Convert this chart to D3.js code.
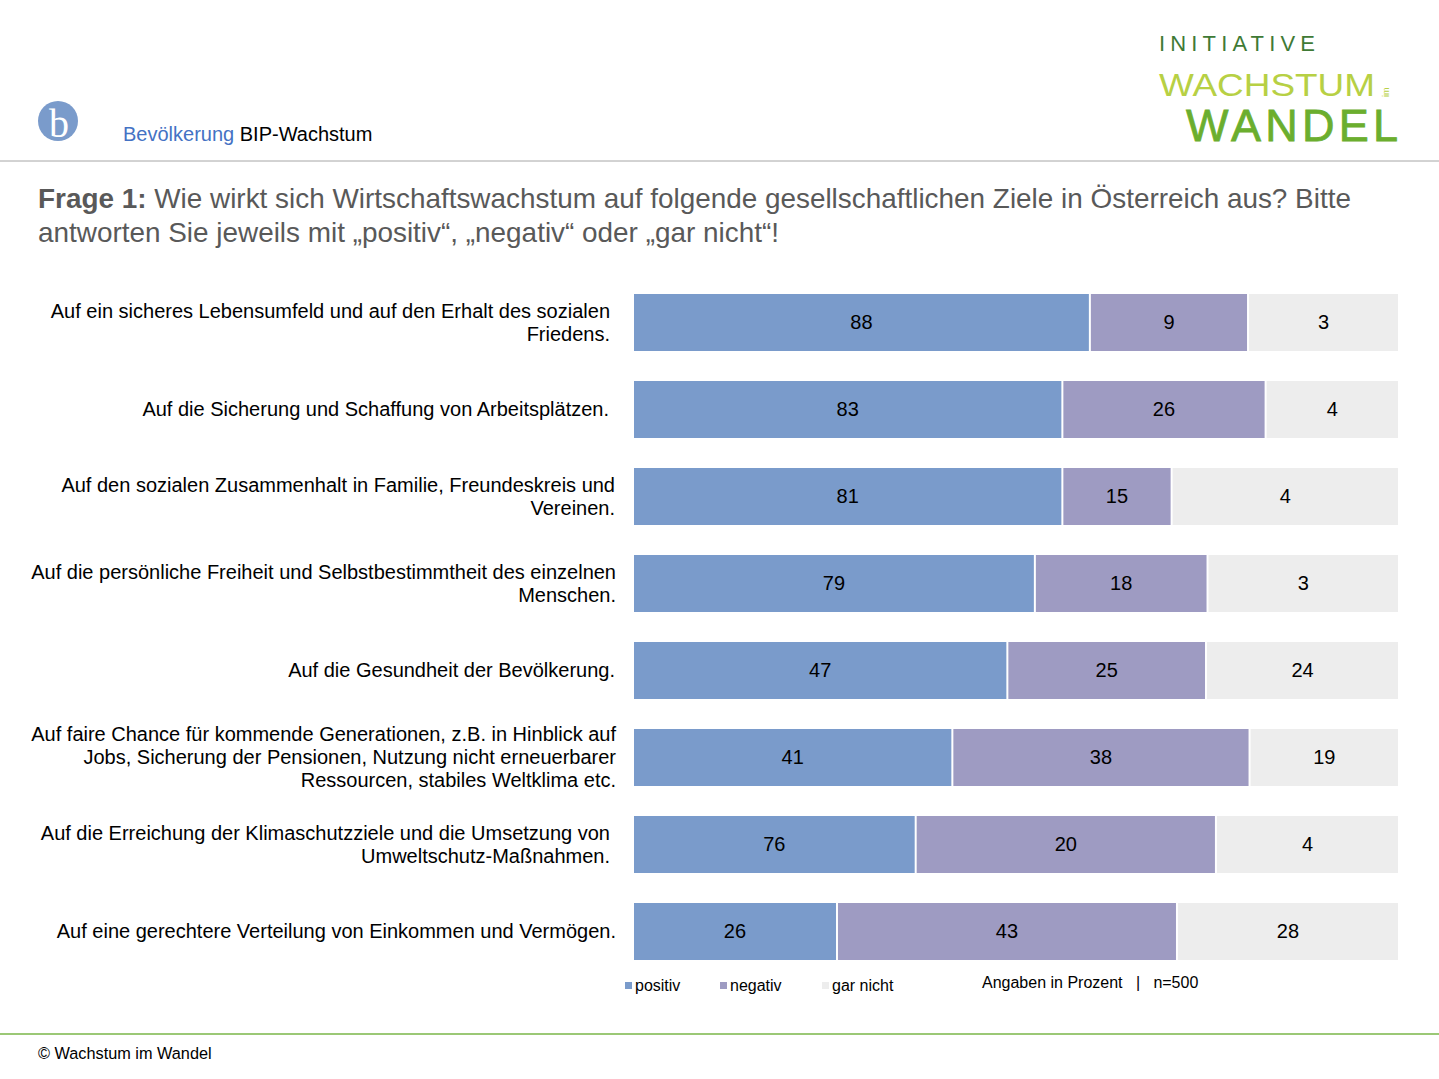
<!DOCTYPE html>
<html><head><meta charset="utf-8">
<script src="https://cdn.jsdelivr.net/npm/d3@7"></script>
<style>
body{margin:0;background:#fff;}
svg{display:block;font-family:"Liberation Sans",Arial,sans-serif;}
</style></head>
<body>
<svg id="c" width="1439" height="1079"></svg>
<script>
// ---- data ----
const categories = [
  ["Auf ein sicheres Lebensumfeld und auf den Erhalt des sozialen","Friedens."],
  ["Auf die Sicherung und Schaffung von Arbeitsplätzen."],
  ["Auf den sozialen Zusammenhalt in Familie, Freundeskreis und","Vereinen."],
  ["Auf die persönliche Freiheit und Selbstbestimmtheit des einzelnen","Menschen."],
  ["Auf die Gesundheit der Bevölkerung."],
  ["Auf faire Chance für kommende Generationen, z.B. in Hinblick auf","Jobs, Sicherung der Pensionen, Nutzung nicht erneuerbarer","Ressourcen, stabiles Weltklima etc."],
  ["Auf die Erreichung der Klimaschutzziele und die Umsetzung von","Umweltschutz-Maßnahmen."],
  ["Auf eine gerechtere Verteilung von Einkommen und Vermögen."]
];
const seriesNames = ["positiv","negativ","gar nicht"];
// values printed on the bars (Prozent)
const positivLabel  = [88,83,81,79,47,41,76,26];
const negativLabel  = [9,26,15,18,25,38,20,43];
const garNichtLabel = [3,4,4,3,24,19,4,28];
// bar lengths as drawn in the picture (share of full bar, %)
const positivBar  = [59.8,56.2,56.2,52.6,49.0,41.8,37.0,26.7];
const negativBar  = [20.7,26.6,14.3,22.6,26.0,38.9,39.3,44.5];
const garNichtBar = [19.5,17.2,29.5,24.8,25.0,19.3,23.7,28.8];

// ---- layout ----
const colors = ["#7A9BCB","#9E9BC2","#EDEDED"];
const labelRight = [610,609,615,616,615,616,610,616];
const svg = d3.select("#c");

// header
svg.append("circle").attr("cx",58).attr("cy",121).attr("r",20).attr("fill","#7A9BCB");
svg.append("text").attr("x",59).attr("y",137).attr("text-anchor","middle")
  .attr("font-family","Liberation Serif, serif").attr("font-size",40).attr("fill","#fff").text("b");
const h = svg.append("text").attr("x",123).attr("y",141).attr("font-size",20);
h.append("tspan").attr("fill","#4472C4").text("Bevölkerung");
h.append("tspan").attr("fill","#000").text(" BIP-Wachstum");
svg.append("line").attr("x1",0).attr("x2",1439).attr("y1",161).attr("y2",161).attr("stroke","#A6A6A6").attr("stroke-width",1);

// right logo
svg.append("text").attr("x",1159).attr("y",51).attr("font-size",22).attr("fill","#3F7A35")
  .attr("textLength",156).attr("lengthAdjust","spacing").text("INITIATIVE");
svg.append("text").attr("x",1159).attr("y",96).attr("font-size",32).attr("fill","#B7D044")
  .attr("textLength",216).attr("lengthAdjust","spacingAndGlyphs").text("WACHSTUM");
svg.append("text").attr("transform","translate(1389,97) rotate(-90)").attr("font-size",9).attr("fill","#B7D044").text("im");
svg.append("text").attr("x",1186).attr("y",141).attr("font-size",45).attr("fill","#6BAE2E")
  .attr("stroke","#6BAE2E").attr("stroke-width",0.8)
  .attr("textLength",212).attr("lengthAdjust","spacing").text("WANDEL");

// title
const t1 = svg.append("text").attr("x",38).attr("y",208).attr("font-size",27.9).attr("fill","#595959");
t1.append("tspan").attr("font-weight","bold").text("Frage 1:");
t1.append("tspan").text(" Wie wirkt sich Wirtschaftswachstum auf folgende gesellschaftlichen Ziele in Österreich aus? Bitte");
svg.append("text").attr("x",38).attr("y",242).attr("font-size",27.9).attr("fill","#595959")
  .text("antworten Sie jeweils mit „positiv“, „negativ“ oder „gar nicht“!");

// chart
const x = d3.scaleLinear().domain([0,100]).range([634,1398]);
const y = d3.scaleBand().domain(d3.range(categories.length)).range([294,960]).paddingInner(30/87).paddingOuter(0);
const bars = [positivBar,negativBar,garNichtBar];
const labels = [positivLabel,negativLabel,garNichtLabel];

categories.forEach((lines,i)=>{
  let cum = 0;
  bars.forEach((arr,s)=>{
    const x0 = x(cum), x1 = x(cum+arr[i]);
    cum += arr[i];
    const w = (s<2 ? x1-x0-2 : x1-x0);
    svg.append("rect").attr("x",x0).attr("y",y(i)).attr("width",w).attr("height",y.bandwidth()).attr("fill",colors[s]);
    svg.append("text").attr("x",x0+w/2).attr("y",y(i)+y.bandwidth()/2+6.5).attr("text-anchor","middle")
      .attr("font-size",20).attr("fill","#000").text(labels[s][i]);
  });
  const cy = y(i)+y.bandwidth()/2;
  const lh = 23;
  const startY = cy - (lines.length-1)*lh/2 + 6.5;
  const tx = svg.append("text").attr("text-anchor","end").attr("font-size",20).attr("fill","#000");
  lines.forEach((l,k)=>tx.append("tspan").attr("x",labelRight[i]).attr("y",startY+k*lh).text(l));
});

// legend
const legX = [625,720,822];
seriesNames.forEach((n,s)=>{
  svg.append("rect").attr("x",legX[s]).attr("y",982).attr("width",7).attr("height",7).attr("fill",colors[s]);
  svg.append("text").attr("x",legX[s]+10).attr("y",991).attr("font-size",16).attr("fill","#000").text(n);
});
svg.append("text").attr("x",982).attr("y",988).attr("font-size",16).attr("fill","#000").attr("xml:space","preserve")
  .text("Angaben in Prozent   |   n=500");

// footer
svg.append("line").attr("x1",0).attr("x2",1439).attr("y1",1034).attr("y2",1034).attr("stroke","#7AB648").attr("stroke-width",1.5);
svg.append("text").attr("x",38).attr("y",1059).attr("font-size",16.3).attr("fill","#000").text("© Wachstum im Wandel");
</script>
</body></html>
